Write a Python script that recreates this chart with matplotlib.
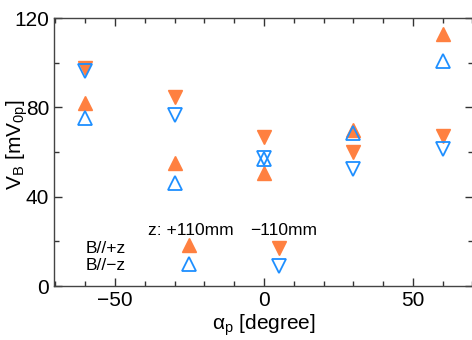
import matplotlib.pyplot as plt
from matplotlib.ticker import MultipleLocator

plt.rcParams["font.family"] = ["Liberation Sans", "DejaVu Sans"]

alpha = [-60, -30, 0, 30, 60]
# z = +110mm
up_pz = [82.1, 54.9, 50.4, 69.9, 112.8]   # B//+z
up_mz = [75.1, 46.0, 56.7, 68.6, 100.7]   # B//-z
# z = -110mm
dn_pz = [97.5, 84.8, 66.9, 60.1, 67.2]    # B//+z
dn_mz = [96.4, 76.6, 57.2, 52.2, 61.2]    # B//-z

orange = "#FF8040"
blue = "#1E8FFF"


def main():
    fig = plt.figure(figsize=(4.72, 3.4), dpi=100)
    ax = fig.add_axes([54 / 472, 54 / 340, 419 / 472, 268 / 340])

    ms = 10.5
    ax.plot(alpha, up_pz, "^", ms=ms, color=orange, mec=orange, ls="none")
    ax.plot(alpha, up_mz, "^", ms=ms, mfc="none", mec=blue, mew=1.3, ls="none")
    ax.plot(alpha, dn_pz, "v", ms=ms, color=orange, mec=orange, ls="none")
    ax.plot(alpha, dn_mz, "v", ms=ms, mfc="none", mec=blue, mew=1.3, ls="none")

    # legend drawn by hand
    fs = 12.5
    ax.text(-24.5, 25.0, "z: +110mm", ha="center", va="center", fontsize=fs)
    ax.text(6.5, 25.0, "\u2212110mm", ha="center", va="center", fontsize=fs)
    ax.text(-60, 17.0, "B//+z", ha="left", va="center", fontsize=fs)
    ax.text(-60, 9.4, "B//\u2212z", ha="left", va="center", fontsize=fs)
    ax.plot([-25], [18.4], "^", ms=ms, color=orange, ls="none")
    ax.plot([-25], [9.9], "^", ms=ms, mfc="none", mec=blue, mew=1.3, ls="none")
    ax.plot([5], [17.0], "v", ms=ms, color=orange, ls="none")
    ax.plot([5], [8.8], "v", ms=ms, mfc="none", mec=blue, mew=1.3, ls="none")

    ax.set_xlim(-70.5, 70.2)
    ax.set_ylim(0, 120)
    ax.xaxis.set_major_locator(MultipleLocator(50))
    ax.xaxis.set_minor_locator(MultipleLocator(10))
    ax.yaxis.set_major_locator(MultipleLocator(40))
    ax.yaxis.set_minor_locator(MultipleLocator(20))
    ax.tick_params(which="both", direction="in", top=True, right=True,
                   color="#333333", labelsize=15)
    ax.tick_params(which="major", length=6, width=1)
    ax.tick_params(which="minor", length=3.5, width=1)
    for s in ax.spines.values():
        s.set_color("#444444")
        s.set_linewidth(1)

    ax.set_xlabel(r"$\mathregular{\alpha_p}$ [degree]", fontsize=15, labelpad=2)
    ax.set_ylabel(r"V$\mathregular{_B}$ [mV$\mathregular{_{0p}}$]", fontsize=15)
    ax.yaxis.set_label_coords(-0.057, 0.526)

    fig.savefig("out.png", dpi=100)


if __name__ == "__main__":
    main()
